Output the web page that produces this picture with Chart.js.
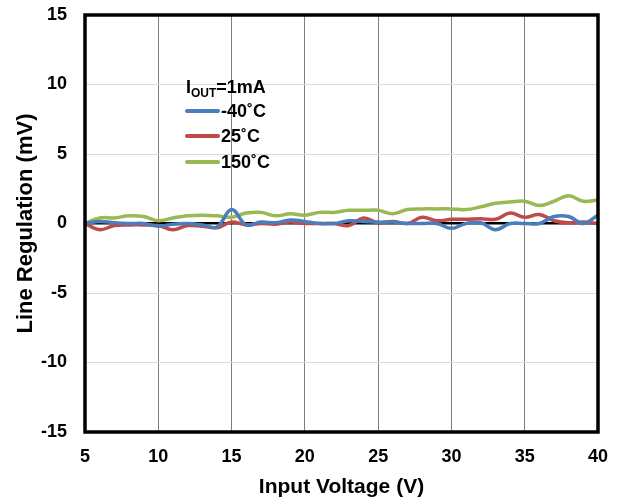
<!DOCTYPE html>
<html>
<head>
<meta charset="utf-8">
<script src="https://cdn.jsdelivr.net/npm/chart.js@4/dist/chart.umd.min.js"></script>
<style>
html,body{margin:0;padding:0;background:#fff;}
#wrap{position:relative;width:622px;height:500px;}
</style>
</head>
<body>
<div id="wrap"><canvas id="c" width="622" height="500"></canvas></div>
<script>
const voltages = [5,6,7,8,9,10,11,12,13,14,15,16,17,18,19,20,21,22,23,24,25,26,27,28,29,30,31,32,33,34,35,36,37,38,39,40];
const seriesNames = ['-40˚C','25˚C','150˚C'];
const minus40C = [0.0,0.15,0.05,0.0,0.0,-0.2,-0.05,0.0,-0.1,-0.25,1.0,-0.1,0.1,0.05,0.25,0.15,0.0,0.0,0.2,0.15,0.1,0.1,0.0,0.0,0.0,-0.35,0.0,0.05,-0.45,0.0,0.0,0.0,0.5,0.5,0.0,0.6];
const plus25C = [0.0,-0.45,-0.15,-0.1,-0.1,-0.15,-0.45,-0.15,-0.2,-0.3,0.1,-0.1,0.0,-0.05,0.1,0.0,0.0,0.0,-0.15,0.4,0.05,0.15,0.0,0.45,0.2,0.3,0.3,0.35,0.3,0.75,0.45,0.65,0.2,0.05,0.1,0.0];
const plus150C = [0.0,0.4,0.4,0.55,0.5,0.2,0.4,0.55,0.6,0.55,0.45,0.75,0.8,0.55,0.7,0.6,0.8,0.8,0.95,0.95,0.95,0.7,1.0,1.05,1.05,1.05,1.0,1.2,1.45,1.55,1.6,1.3,1.6,2.0,1.6,1.7];
const xTicks = [5,10,15,20,25,30,35,40];
const yTicks = [-15,-10,-5,0,5,10,15];
const colors = ['#4a7ebb','#be4b48','#98b954'];

const FONT = "'Liberation Sans', Arial, sans-serif";

function pts(arr){ return voltages.map((v,i)=>({x:v,y:arr[i]})); }

const frame = {
  id:'frame',
  afterDatasetsDraw(chart){
    const {ctx, chartArea:a} = chart;
    ctx.save();
    ctx.strokeStyle = '#000';
    ctx.lineWidth = 3.5;
    ctx.strokeRect(a.left, a.top, a.right-a.left, a.bottom-a.top);
    ctx.restore();
  },
  afterDraw(chart){
    const ctx = chart.ctx;
    ctx.save();
    ctx.fillStyle = '#000';
    ctx.textBaseline = 'alphabetic';
    ctx.textAlign = 'left';
    let x = 186, y = 93;
    ctx.font = "bold 18px " + FONT;
    ctx.fillText('I', x, y);
    x += ctx.measureText('I').width;
    ctx.font = "bold 12px " + FONT;
    ctx.fillText('OUT', x, y + 4);
    x += ctx.measureText('OUT').width;
    ctx.font = "bold 18px " + FONT;
    ctx.fillText('=1mA', x, y);
    const ys = [111, 136, 162];
    ctx.textBaseline = 'middle';
    seriesNames.forEach((n,i)=>{
      ctx.strokeStyle = colors[i];
      ctx.lineWidth = 4;
      ctx.lineCap = 'round';
      ctx.beginPath();
      ctx.moveTo(187, ys[i]);
      ctx.lineTo(218, ys[i]);
      ctx.stroke();
      ctx.fillText(n, 221, ys[i] + 1);
    });
    ctx.restore();
  }
};

new Chart(document.getElementById('c'), {
  type: 'line',
  data: {
    datasets: [
      {label: seriesNames[0], data: pts(minus40C), borderColor: colors[0]},
      {label: seriesNames[1], data: pts(plus25C), borderColor: colors[1]},
      {label: seriesNames[2], data: pts(plus150C), borderColor: colors[2]}
    ].map(d=>Object.assign(d,{borderWidth:3.5, pointRadius:0, tension:0.4, fill:false}))
  },
  options: {
    responsive: false,
    animation: false,
    layout: {padding: {left: 0, right: 24, top: 15, bottom: 0}},
    plugins: {legend: {display: false}, tooltip: {enabled: false}},
    scales: {
      x: {
        type: 'linear', min: 5, max: 40,
        afterBuildTicks(s){ s.ticks = xTicks.map(v=>({value:v})); },
        afterFit(s){ s.height = 68; s.paddingLeft = 0; s.paddingRight = 0; },
        grid: {color: '#7f7f7f', lineWidth: 1, drawTicks: false},
        border: {display: false},
        ticks: {padding: 14, color: '#000', font: {family: FONT, size: 18, weight: 'bold'}, maxRotation: 0},
        title: {display: true, text: 'Input Voltage (V)', color: '#000', font: {family: FONT, size: 21, weight: 'bold'}, padding: {top: 0, bottom: 0}}
      },
      y: {
        type: 'linear', min: -15, max: 15,
        afterBuildTicks(s){ s.ticks = yTicks.map(v=>({value:v})); },
        afterFit(s){ s.width = 85; s.paddingTop = 0; s.paddingBottom = 0; },
        grid: {
          color: c => c.tick && c.tick.value === 0 ? '#000' : '#d9d9d9',
          lineWidth: c => c.tick && c.tick.value === 0 ? 2.5 : 1,
          drawTicks: false
        },
        border: {display: false},
        ticks: {padding: 18, color: '#000', font: {family: FONT, size: 18, weight: 'bold'}},
        title: {display: true, text: 'Line Regulation (mV)', color: '#000', font: {family: FONT, size: 22, weight: 'bold'}, padding: {top: 13, bottom: 0}}
      }
    }
  },
  plugins: [frame]
});
</script>
</body>
</html>
